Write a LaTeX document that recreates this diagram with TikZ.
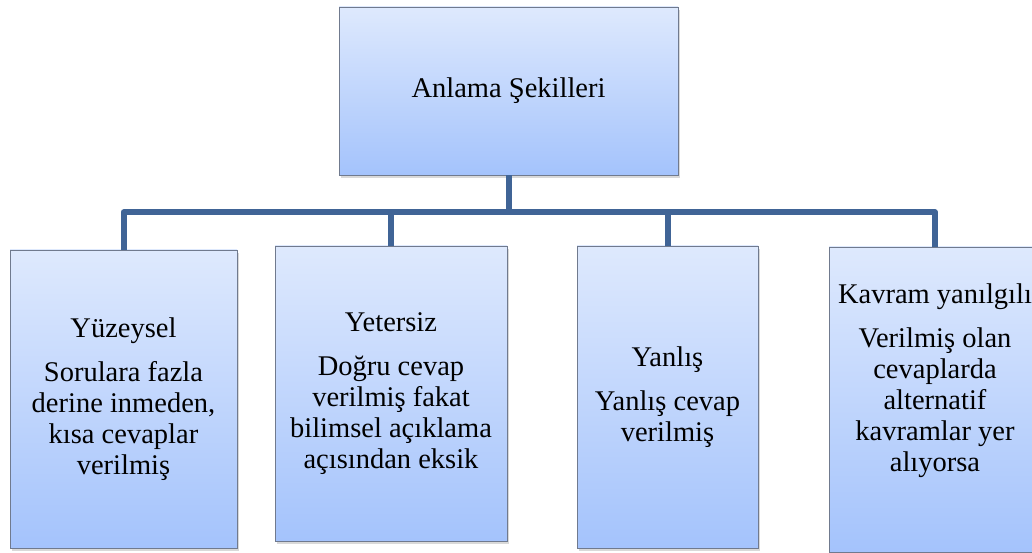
\documentclass[tikz,border=0pt]{standalone}
\usepackage{fontspec}
\setmainfont{Liberation Serif}
\usetikzlibrary{positioning,calc,shadows}
\definecolor{boxtop}{RGB}{222,233,253}
\definecolor{boxbottom}{RGB}{164,195,252}
\definecolor{boxline}{RGB}{112,122,142}
\definecolor{linkblue}{RGB}{64,100,150}

\begin{document}
\begin{tikzpicture}[
x=1pt,y=1pt,
box/.style={
	draw=boxline,
	line width=0.8pt,
	top color=boxtop,
	bottom color=boxbottom,
	drop shadow={shadow xshift=1.5pt,shadow yshift=-3pt,opacity=0.3},
	align=center,
	inner sep=0pt,
	font=\fontsize{28.5}{31}\selectfont,
},
link/.style={draw=linkblue,line width=6pt,line join=round},
]
\useasboundingbox (0,0) rectangle (1032,553);
% main box
\node[box,minimum width=339pt,minimum height=168pt] (top) at (508.5,462) {Anlama Şekilleri};
% the four kinds
\node[box,minimum width=227pt,minimum height=298pt] (surface) at (123.5,154)
	{Yüzeysel\\[13pt] Sorulara fazla\\ derine inmeden,\\ kısa cevaplar\\ verilmiş};
\node[box,minimum width=232pt,minimum height=295pt] (lacking) at (391,159.5)
	{Yetersiz\\[13pt] Doğru cevap\\ verilmiş fakat\\ bilimsel açıklama\\ açısından eksik};
\node[box,minimum width=181pt,minimum height=302pt] (wrong) at (667.5,156)
	{Yanlış\\[13pt] Yanlış cevap\\ verilmiş};
\node[box,minimum width=212pt,minimum height=305pt] (misconcept) at (935,153.5)
	{Kavram yanılgılı\\[13pt] Verilmiş olan\\ cevaplarda\\ alternatif\\ kavramlar yer\\ alıyorsa\\[12pt]\mbox{}};
% connectors
\draw[link] (top.south) -- ++(0,-37) coordinate (fork);
\draw[link] (fork) -| (surface.north);
\draw[link] (fork) -| (lacking.north);
\draw[link] (fork) -| (wrong.north);
\draw[link] (fork) -| (misconcept.north);
\end{tikzpicture}
\end{document}
